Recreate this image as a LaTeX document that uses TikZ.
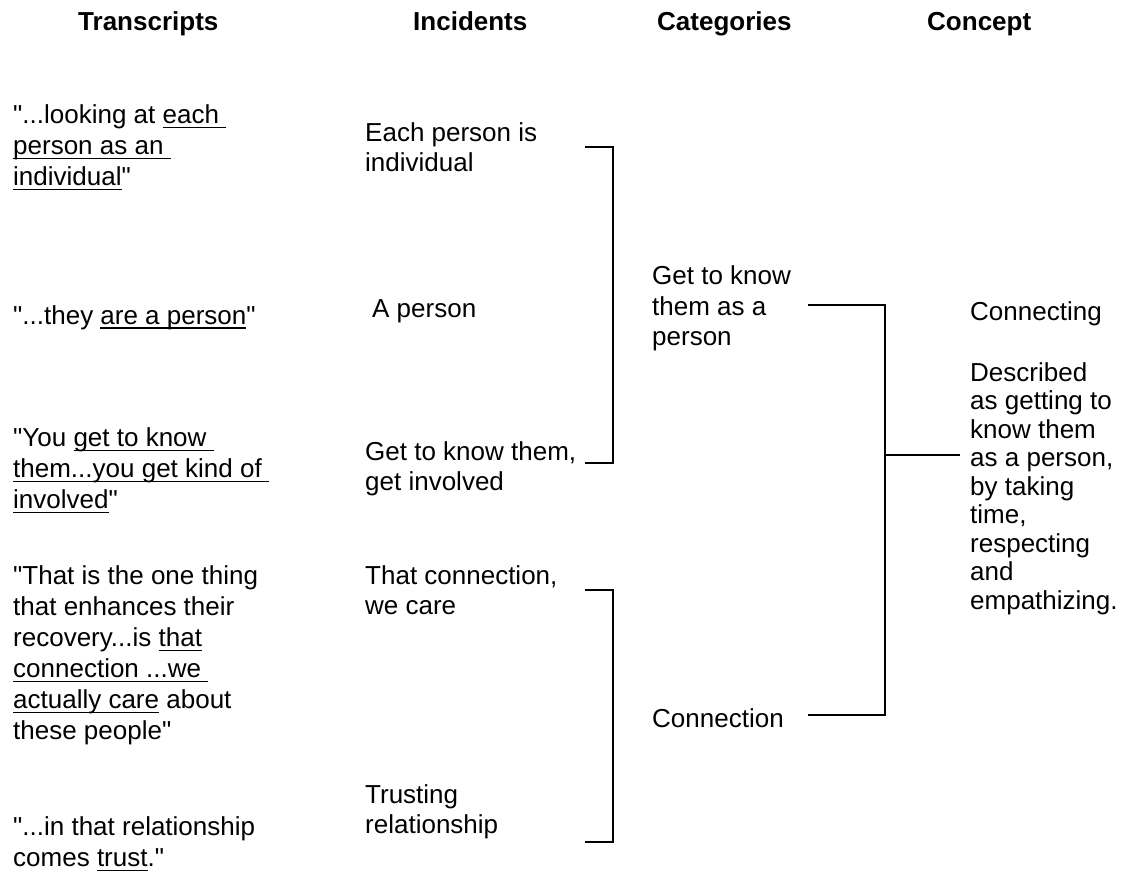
\documentclass[tikz,border=0pt]{standalone}
\usepackage{fontspec}
\usetikzlibrary{calc}
\setmainfont{Liberation Sans}[Ligatures=TeXOff]
% underline at a fixed depth below the baseline, trailing spaces included
\newcommand{\ulin}[1]{\sbox0{#1}\rlap{\rule[-5pt]{\wd0}{1.8pt}}\usebox0}
\tikzset{
  head/.style={anchor=base west, inner sep=0pt, font=\fontsize{26}{30}\selectfont\bfseries},
  txt/.style={anchor=north west, inner sep=0pt, align=left,
              font=\fontsize{26}{#1}\selectfont, execute at begin node=\strut},
  txt/.default=30,
  bracket/.style={draw=black, line width=1.2pt},
}
\begin{document}
\begin{tikzpicture}[x=1pt,y=-1pt]
\useasboundingbox[fill=white] (0,0) rectangle (1129,878);

% column headings
\node[head] (hT) at (78,30)  {Transcripts};
\node[head] (hI) at (413,30) {Incidents};
\node[head] (hC) at (657,30) {Categories};
\node[head] (hK) at (927,30) {Concept};

% transcripts (first baseline = top + 0.7 baselineskip)
\node[txt=31] (t1) at (13,104.3) {"...looking at \ulin{each }\\\ulin{person as an }\\\ulin{individual}"};
\node[txt=31] (t2) at (13,302.3) {"...they \ulin{are a person}"};
\node[txt=31] (t3) at (13,427.3) {"You \ulin{get to know }\\\ulin{them...you get kind of }\\\ulin{involved}"};
\node[txt=31] (t4) at (13,565.3) {"That is the one thing\\that enhances their\\recovery...is \ulin{that}\\\ulin{connection ...we }\\\ulin{actually care} about\\these people"};
\node[txt=31] (t5) at (13,816.3) {"...in that relationship\\comes \ulin{trust}."};

% incidents
\node[txt] (i1) at (365,122) {Each person is\\individual};
\node[txt] (i2) at (372,296) {A person};
\node[txt] (i3) at (365,441) {Get to know them,\\get involved};
\node[txt] (i4) at (365,565) {That connection,\\we care};
\node[txt] (i5) at (365,784) {Trusting\\relationship};

% categories
\node[txt=30.5] (c1) at (652,265.6) {Get to know\\them as a\\person};
\node[txt=30.5] (c2) at (652,705.6) {Connection};

% concept
\node[txt=28.5] (k1) at (970,300) {Connecting};
\node[txt=28.5] (k2) at (970,362) {Described\\as getting to\\know them\\as a person,\\by taking\\time,\\respecting\\and\\empathizing.};

% bracket ends
\coordinate (i1e) at (585,147);
\coordinate (i3e) at (585,463);
\coordinate (i4e) at (585,590);
\coordinate (i5e) at (585,842);
\coordinate (c1e) at (808,305);
\coordinate (c2e) at (808,715);
\coordinate (kj)  at (885,455);
\coordinate (k2w) at (960,455);

% incidents grouped into categories
\draw[bracket] (i1e) -| ($(i3e)+(28,0)$) -- (i3e);
\draw[bracket] (i4e) -| ($(i5e)+(28,0)$) -- (i5e);

% categories grouped into the concept
\draw[bracket] (c1e) -| (kj) |- (c2e);
\draw[bracket] (kj) -- (k2w);
\end{tikzpicture}
\end{document}
